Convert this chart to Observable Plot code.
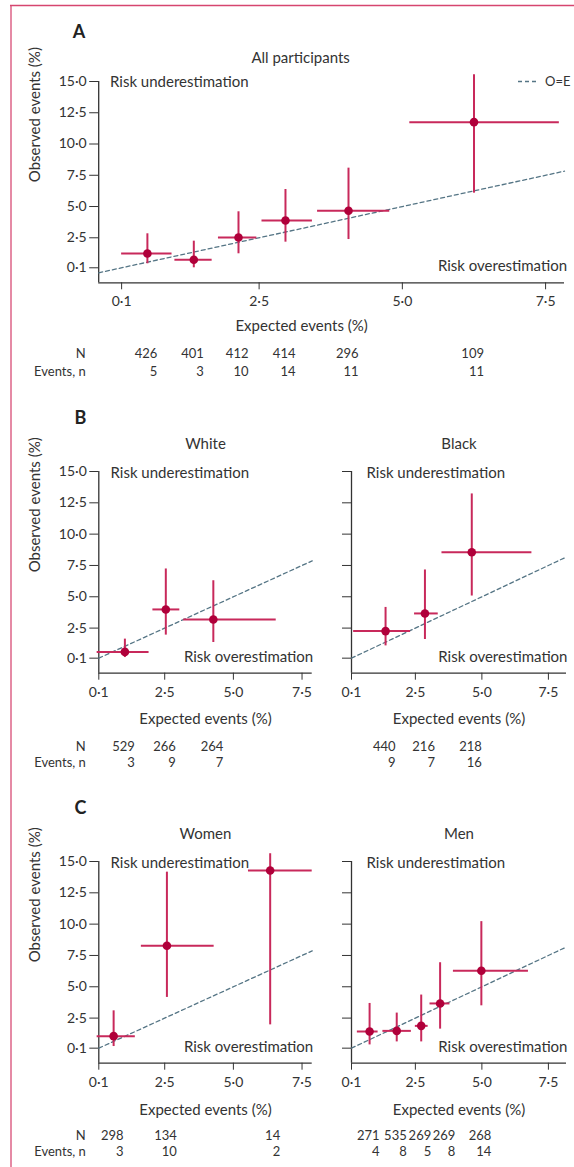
<!DOCTYPE html>
<html><head><meta charset="utf-8">
<script src="https://cdn.jsdelivr.net/npm/d3@7"></script>
<script src="https://cdn.jsdelivr.net/npm/@observablehq/plot@0.6"></script>
<style>
html,body{margin:0;padding:0;background:#fff;}
#chart{position:relative;width:574px;height:1167px;overflow:hidden;font-family:Lato,sans-serif;color:#333;background:#fff;}
#chart svg{position:absolute;}
</style></head><body><div id="chart"></div>
<script>
// ---- tick values ----
const xTicks = [0.1, 2.5, 5, 7.5];
const yTicks = [0.1, 2.5, 5, 7.5, 10, 12.5, 15];

// ---- A: all participants ----
const allExp   = [0.55, 1.36, 2.14, 2.96, 4.06, 6.25];
const allExpLo = [0.10, 1.03, 1.79, 2.55, 3.52, 5.13];
const allExpHi = [0.98, 1.68, 2.46, 3.43, 4.78, 7.74];
const allObs   = [1.24, 0.74, 2.52, 3.88, 4.66, 11.75];
const allObsLo = [0.42, 0.10, 1.22, 2.15, 2.36, 6.07];
const allObsHi = [2.82, 2.23, 4.58, 6.36, 8.07, 15.54];
const allN     = [426, 401, 412, 414, 296, 109];
const allEv    = [5, 3, 10, 14, 11, 11];

// ---- B: White ----
const whiteExp   = [1.05, 2.54, 4.27];
const whiteExpLo = [0.04, 2.07, 3.19];
const whiteExpHi = [1.93, 3.05, 6.56];
const whiteObs   = [0.60, 3.99, 3.19];
const whiteObsLo = [0.15, 1.94, 1.35];
const whiteObsHi = [1.62, 7.22, 6.28];
const whiteN     = [529, 266, 264];
const whiteEv    = [3, 9, 7];

// ---- B: Black ----
const blackExp   = [1.38, 2.86, 4.62];
const blackExpLo = [0.18, 2.47, 3.50];
const blackExpHi = [2.32, 3.36, 6.88];
const blackObs   = [2.26, 3.67, 8.55];
const blackObsLo = [1.08, 1.59, 5.06];
const blackObsHi = [4.15, 7.14, 13.21];
const blackN     = [440, 216, 218];
const blackEv    = [9, 7, 16];

// ---- C: Women ----
const womenExp   = [0.64, 2.58, 6.34];
const womenExpLo = [0.04, 1.65, 5.55];
const womenExpHi = [1.43, 4.30, 7.87];
const womenObs   = [1.06, 8.28, 14.28];
const womenObsLo = [0.23, 4.15, 1.96];
const womenObsHi = [3.08, 14.15, 15.62];
const womenN     = [298, 134, 14];
const womenEv    = [3, 10, 2];

// ---- C: Men ----
const menExp   = [0.78, 1.80, 2.72, 3.43, 4.98];
const menExpLo = [0.32, 1.28, 2.50, 3.05, 3.93];
const menExpHi = [1.10, 2.35, 2.98, 3.80, 6.75];
const menObs   = [1.43, 1.48, 1.88, 3.67, 6.28];
const menObsLo = [0.36, 0.60, 0.60, 1.62, 3.48];
const menObsHi = [3.67, 2.90, 4.34, 6.92, 10.20];
const menN     = [271, 535, 269, 269, 268];
const menEv    = [4, 8, 5, 8, 14];

const axisColor = "#333";
const textColor = "#333";
const barColor = "#c8295b";
const dotColor = "#b0003a";
const oeColor = "#557585";
const FONT = "Lato, sans-serif";
const LABEL_FS = 15, TICK_FS = 14, TABLE_FS = 13;

const tickLabel = d => d.toFixed(1).replace(".", "\u00b7");

function rowsOf(exp, lo, hi, obs, olo, ohi, n, ev) {
  return exp.map((x, i) => ({x, xlo: lo[i], xhi: hi[i], y: obs[i], ylo: olo[i], yhi: ohi[i], n: n[i], ev: ev[i]}));
}

// right-aligned table columns under each point; push a column right if it would collide with its left neighbour
function tableColumns(rows, xDomain, L, R) {
  const s = d3.scaleLinear(xDomain, [L, R]);
  const minGap = TABLE_FS * 1.85;
  let prev = -Infinity;
  return rows.map(d => {
    let edge = Math.max(s(d.x) + 10, prev + minGap);
    prev = edge;
    return {...d, tx: s.invert(edge)};
  });
}

function panel(cfg) {
  const {left, top, width, height, L, R, T, B, t} = cfg;
  const rows = cfg.rows;
  const cols = tableColumns(rows, cfg.xDomain, L, R);
  const marks = [
    Plot.ruleX([cfg.xDomain[0]], {stroke: axisColor, strokeWidth: 1.3}),
    Plot.ruleY([cfg.yDomain[0]], {stroke: axisColor, strokeWidth: 1.3}),
    Plot.axisX({ticks: xTicks, tickFormat: tickLabel, tickSize: 7, tickPadding: 6.7, fontSize: TICK_FS, label: null, color: axisColor}),
    Plot.axisY({ticks: yTicks, tickFormat: cfg.yLabels ? tickLabel : () => "", tickSize: 9, tickPadding: 3, fontSize: TICK_FS, label: null, color: axisColor}),
    Plot.line(cfg.xDomain, {x: d => d, y: d => d, stroke: oeColor, strokeDasharray: "4,3", strokeWidth: 1.3}),
    Plot.ruleY(rows, {y: "y", x1: "xlo", x2: "xhi", stroke: barColor, strokeWidth: 2}),
    Plot.ruleX(rows, {x: "x", y1: "ylo", y2: "yhi", stroke: barColor, strokeWidth: 2}),
    Plot.dot(rows, {x: "x", y: "y", r: 4.3, fill: dotColor}),
    Plot.text([cfg.title], {text: d => d, frameAnchor: "top", dx: t.titleDx, dy: t.titleDy, lineAnchor: "bottom", fontSize: LABEL_FS, fill: textColor}),
    Plot.text(["Risk underestimation"], {text: d => d, frameAnchor: "top-left", textAnchor: "start", dx: t.underDx, dy: t.underDy, lineAnchor: "bottom", fontSize: LABEL_FS, fill: textColor}),
    Plot.text(["Risk overestimation"], {text: d => d, frameAnchor: "bottom-right", textAnchor: "end", dx: t.overDx, dy: t.overDy, lineAnchor: "bottom", fontSize: LABEL_FS, fill: textColor}),
    Plot.text(["Expected events (%)"], {text: d => d, frameAnchor: "bottom", dx: t.xlabDx, dy: t.xlabDy, lineAnchor: "bottom", fontSize: LABEL_FS, fill: textColor}),
    Plot.text(cols, {x: "tx", text: d => String(d.n), frameAnchor: "bottom", textAnchor: "end", dy: t.nDy, lineAnchor: "bottom", fontSize: TABLE_FS, fill: textColor}),
    Plot.text(cols, {x: "tx", text: d => String(d.ev), frameAnchor: "bottom", textAnchor: "end", dy: t.evDy, lineAnchor: "bottom", fontSize: TABLE_FS, fill: textColor})
  ];
  if (cfg.yLabels) {
    marks.push(
      Plot.text(["Observed events (%)"], {text: d => d, frameAnchor: "left", dx: -64, rotate: -90, fontSize: LABEL_FS, fill: textColor}),
      Plot.text(["N"], {text: d => d, frameAnchor: "bottom-left", textAnchor: "end", dx: -13, dy: t.nDy, lineAnchor: "bottom", fontSize: TABLE_FS, fill: textColor}),
      Plot.text(["Events, n"], {text: d => d, frameAnchor: "bottom-left", textAnchor: "end", dx: -13, dy: t.evDy, lineAnchor: "bottom", fontSize: TABLE_FS, fill: textColor})
    );
  }
  if (cfg.letter) {
    marks.push(Plot.text([cfg.letter], {text: d => d, frameAnchor: "top-left", textAnchor: "start", dx: t.letterDx, dy: t.letterDy, lineAnchor: "bottom", fontSize: 18, fontWeight: "bold", fill: "#222"}));
  }
  const svg = Plot.plot({
    width, height,
    marginLeft: L - left, marginRight: left + width - R,
    marginTop: T - top, marginBottom: top + height - B,
    x: {domain: cfg.xDomain},
    y: {domain: cfg.yDomain},
    style: {background: "transparent", overflow: "visible", fontFamily: FONT, fontSize: TICK_FS + "px", color: textColor},
    marks
  });
  svg.style.left = left + "px";
  svg.style.top = top + "px";
  return svg;
}

const yDomain = [-1.1, 15];
const tA = {titleDx: -31, titleDy: -19, underDx: 11.3, underDy: 5.7, overDx: 2.6, overDy: -11.6, xlabDx: -30, xlabDy: 47.7, nDy: 75.4, evDy: 92.7, letterDx: -26, letterDy: -44};
const tB = {titleDx: 0, titleDy: -23, underDx: 11.7, underDy: 6.3, overDx: 1, overDy: -11, xlabDx: 0, xlabDy: 51, nDy: 77.3, evDy: 93.3, letterDx: -24.3, letterDy: -48};
const tBr = {...tB, underDx: 15};
const tC = {...tB, nDy: 76.3, evDy: 92.3, xlabDy: 51.6};
const tCr = {...tC, underDx: 15};

const chart = document.getElementById("chart");
chart.append(panel({left: 0, top: 0, width: 574, height: 385, L: 98.2, R: 564, T: 81, B: 282.3,
  xDomain: [-0.3, 7.83], yDomain, rows: rowsOf(allExp, allExpLo, allExpHi, allObs, allObsLo, allObsHi, allN, allEv),
  title: "All participants", letter: "A", yLabels: true, t: tA}));
chart.append(panel({left: 0, top: 385, width: 330, height: 390, L: 98.3, R: 311.7, T: 471, B: 672.7,
  xDomain: [0.1, 7.87], yDomain, rows: rowsOf(whiteExp, whiteExpLo, whiteExpHi, whiteObs, whiteObsLo, whiteObsHi, whiteN, whiteEv),
  title: "White", letter: "B", yLabels: true, t: tB}));
chart.append(panel({left: 330, top: 385, width: 244, height: 390, L: 351, R: 566, T: 471, B: 672.7,
  xDomain: [0.1, 8.18], yDomain, rows: rowsOf(blackExp, blackExpLo, blackExpHi, blackObs, blackObsLo, blackObsHi, blackN, blackEv),
  title: "Black", yLabels: false, t: tBr}));
chart.append(panel({left: 0, top: 775, width: 330, height: 392, L: 98.3, R: 311.7, T: 861, B: 1062.7,
  xDomain: [0.1, 7.87], yDomain, rows: rowsOf(womenExp, womenExpLo, womenExpHi, womenObs, womenObsLo, womenObsHi, womenN, womenEv),
  title: "Women", letter: "C", yLabels: true, t: tC}));
chart.append(panel({left: 330, top: 775, width: 244, height: 392, L: 351, R: 566, T: 861, B: 1062.7,
  xDomain: [0.1, 8.18], yDomain, rows: rowsOf(menExp, menExpLo, menExpHi, menObs, menObsLo, menObsHi, menN, menEv),
  title: "Men", yLabels: false, t: tCr}));

// decorations: page border and O=E legend
const ns = "http://www.w3.org/2000/svg";
const deco = document.createElementNS(ns, "svg");
deco.setAttribute("width", 574); deco.setAttribute("height", 1167);
deco.style.left = "0px"; deco.style.top = "0px";
deco.innerHTML = `
  <line x1="11" y1="5" x2="11" y2="1167" stroke="#e58aa5" stroke-width="2"/>
  <line x1="10" y1="5.5" x2="574" y2="5.5" stroke="#d6456f" stroke-width="1.5"/>
  <line x1="518" y1="81.5" x2="538" y2="81.5" stroke="${oeColor}" stroke-width="1.3" stroke-dasharray="4,3"/>
  <text x="545" y="85.5" font-size="13" fill="${textColor}" font-family="${FONT}">O=E</text>`;
chart.append(deco);
</script></body></html>
